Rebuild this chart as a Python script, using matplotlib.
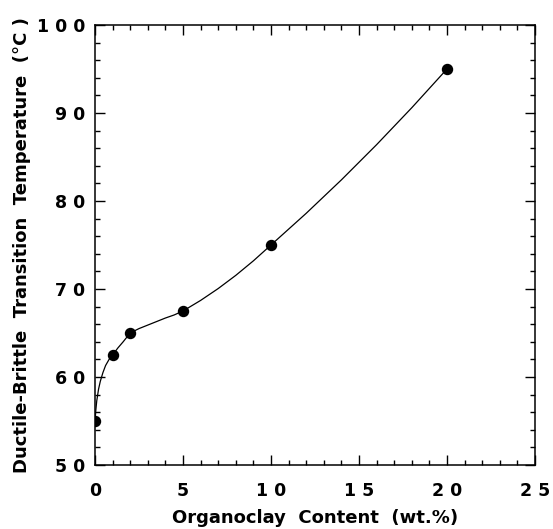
import matplotlib.pyplot as plt
from matplotlib.ticker import FixedLocator, FixedFormatter, MultipleLocator

# measured points
clay = [0, 1, 2, 5, 10, 20]
dbtt = [55, 62.5, 65, 67.5, 75, 95]

# hand-drawn guide curve
curve_x = [0, 0.05, 0.1, 0.2, 0.3, 0.45, 0.6, 0.8, 1.0, 1.3, 1.6, 2.0, 2.5, 3.0, 3.5, 4.0, 4.5, 5.0,
           6, 7, 8, 9, 10, 11, 12, 13, 14, 15, 16, 17, 18, 19, 20]
curve_y = [55, 56.3, 57.3, 58.6, 59.5, 60.5, 61.3, 62.0, 62.5, 63.3, 64.0, 65.0, 65.5, 65.9, 66.3, 66.7, 67.05, 67.5,
           68.7, 70.05, 71.55, 73.2, 75.0, 76.8, 78.6, 80.5, 82.4, 84.4, 86.4, 88.5, 90.6, 92.8, 95.0]

xticks = [0, 5, 10, 15, 20, 25]
xtick_labels = ["0", "5", "1 0", "1 5", "2 0", "2 5"]
yticks = [50, 60, 70, 80, 90, 100]
ytick_labels = ["5 0", "6 0", "7 0", "8 0", "9 0", "1 0 0"]

plt.rcParams.update({"font.family": ["DejaVu Sans"], "font.weight": "bold"})

fig = plt.figure(figsize=(5.53, 5.29), dpi=100)
ax = fig.add_axes([0.1718, 0.121, 0.7957, 0.8318])

ax.plot(curve_x, curve_y, c="black", lw=0.9)
ax.plot(clay, dbtt, "o", c="black", ms=7.2)

ax.set_xlim(0, 25)
ax.set_ylim(50, 100)
ax.xaxis.set_major_locator(FixedLocator(xticks))
ax.xaxis.set_major_formatter(FixedFormatter(xtick_labels))
ax.yaxis.set_major_locator(FixedLocator(yticks))
ax.yaxis.set_major_formatter(FixedFormatter(ytick_labels))
ax.xaxis.set_minor_locator(MultipleLocator(1))
ax.yaxis.set_minor_locator(MultipleLocator(2))

ax.tick_params(which="both", direction="in", top=True, right=True, width=1.0, labelsize=12.5)
ax.tick_params(which="major", length=7)
ax.tick_params(which="minor", length=3.8)
ax.tick_params(axis="x", which="major", pad=12)
ax.tick_params(axis="y", which="major", pad=7)
for s in ax.spines.values():
    s.set_linewidth(1.1)

ax.set_xlabel("Organoclay  Content  (wt.%)", fontsize=13, fontweight="bold", labelpad=7)
ax.set_ylabel("Ductile-Brittle  Transition  Temperature  (\u00b0C )", fontsize=13, fontweight="bold", labelpad=4)

fig.savefig("out.png", dpi=100)
